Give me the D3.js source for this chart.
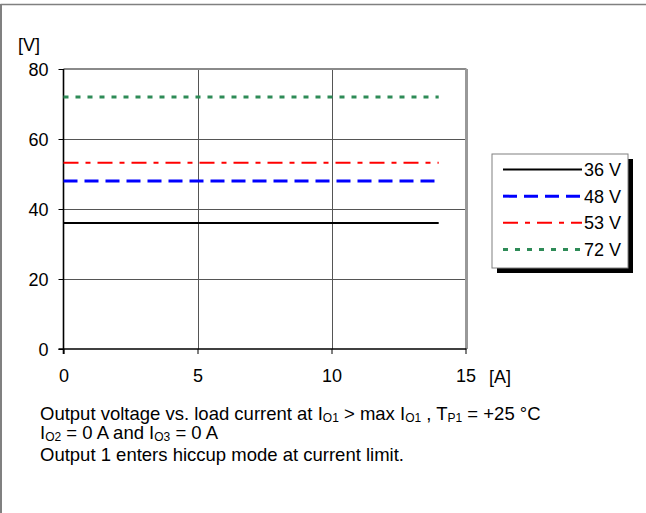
<!DOCTYPE html>
<html>
<head>
<meta charset="utf-8">
<script src="https://cdn.jsdelivr.net/npm/d3@7"></script>
<style>
  html, body { margin: 0; padding: 0; background: #fff; }
  svg { display: block; font-family: "Liberation Sans", Arial, sans-serif; }
</style>
</head>
<body>
<svg id="chart" width="646" height="513"></svg>
<script>
// Output voltage (V) vs. load current (A) for each input voltage setting
const seriesNames = ["36 V", "48 V", "53 V", "72 V"];
const currents = [0, 14];
const voltage36 = [36, 36];
const voltage48 = [48, 48];
const voltage53 = [53.2, 53.2];
const voltage72 = [72, 72];
const xTicks = [0, 5, 10, 15];
const yTicks = [0, 20, 40, 60, 80];

const seriesValues = [voltage36, voltage48, voltage53, voltage72];
const seriesStyle = [
  { color: "#000000", width: 2,   dash: null },
  { color: "#0000ff", width: 3,   dash: "14,7" },
  { color: "#ff0000", width: 2,   dash: "15,7,5,7" },
  { color: "#2e8b57", width: 3,   dash: "5,7" }
];

const FONT = 18;
const svg = d3.select("#chart");

// outer frame (top and left edges)
svg.append("line").attr("x1", 0.5).attr("x2", 646).attr("y1", 4.5).attr("y2", 4.5)
  .attr("stroke", "#808080").attr("stroke-width", 1.5);
svg.append("line").attr("x1", 1).attr("x2", 1).attr("y1", 4).attr("y2", 513)
  .attr("stroke", "#808080").attr("stroke-width", 2);

const plot = { left: 63.5, right: 465.5, top: 69, bottom: 349 };
const x = d3.scaleLinear().domain([0, 15]).range([plot.left, plot.right]);
const y = d3.scaleLinear().domain([0, 80]).range([plot.bottom, plot.top]);

// grid
const g = svg.append("g");
g.selectAll(".hgrid").data(yTicks.filter(d => d > 0 && d < 80)).join("line")
  .attr("x1", plot.left).attr("x2", plot.right)
  .attr("y1", d => Math.round(y(d)) + 0.5).attr("y2", d => Math.round(y(d)) + 0.5)
  .attr("stroke", "#555").attr("stroke-width", 1);
g.selectAll(".vgrid").data(xTicks.filter(d => d > 0 && d < 15)).join("line")
  .attr("x1", d => Math.round(x(d)) + 0.5).attr("x2", d => Math.round(x(d)) + 0.5)
  .attr("y1", plot.top).attr("y2", plot.bottom)
  .attr("stroke", "#555").attr("stroke-width", 1);

// plot border: top and right gray
g.append("line").attr("x1", plot.left).attr("x2", plot.right + 1)
  .attr("y1", plot.top).attr("y2", plot.top)
  .attr("stroke", "#8a8a8a").attr("stroke-width", 2);
g.append("line").attr("x1", plot.right + 1).attr("x2", plot.right + 1)
  .attr("y1", plot.top).attr("y2", plot.bottom)
  .attr("stroke", "#999").attr("stroke-width", 3);

// axes
const yAxis = d3.axisLeft(y).tickValues(yTicks).tickSize(5).tickPadding(10);
const xAxis = d3.axisBottom(x).tickValues(xTicks).tickSize(5).tickPadding(15);

const ya = svg.append("g").attr("transform", `translate(${plot.left},0)`).call(yAxis);
const xa = svg.append("g").attr("transform", `translate(0,${plot.bottom})`).call(xAxis);
[ya, xa].forEach(a => {
  a.attr("font-size", FONT).attr("font-family", "'Liberation Sans', Arial, sans-serif");
  a.select(".domain").remove();
  a.selectAll("line").attr("stroke", "#000").attr("stroke-width", 1);
  a.selectAll("text").attr("fill", "#000");
});
ya.selectAll("text").attr("dy", "0.36em");
svg.append("line").attr("x1", plot.left).attr("x2", plot.left)
  .attr("y1", plot.top).attr("y2", plot.bottom + 5)
  .attr("stroke", "#000").attr("stroke-width", 1.6);
svg.append("line").attr("x1", plot.left - 5).attr("x2", plot.right + 1)
  .attr("y1", plot.bottom).attr("y2", plot.bottom)
  .attr("stroke", "#000").attr("stroke-width", 1.6);

// unit labels
svg.append("text").attr("x", 18).attr("y", 51).text("[V]")
  .attr("font-size", FONT);
svg.append("text").attr("x", 489).attr("y", 383).text("[A]")
  .attr("font-size", FONT);

// series lines
const line = d3.line().x(d => x(d[0])).y(d => y(d[1]));
seriesValues.forEach((vals, i) => {
  const pts = currents.map((c, j) => [c, vals[j]]);
  const s = seriesStyle[i];
  svg.append("path").attr("d", line(pts))
    .attr("fill", "none").attr("stroke", s.color)
    .attr("stroke-width", s.width)
    .attr("stroke-dasharray", s.dash);
});

// legend with drop shadow
const lg = { x: 492, y: 154, w: 136, h: 114 };
svg.append("rect").attr("x", lg.x + 5).attr("y", lg.y + 5)
  .attr("width", lg.w).attr("height", lg.h).attr("fill", "#000");
svg.append("rect").attr("x", lg.x).attr("y", lg.y)
  .attr("width", lg.w).attr("height", lg.h)
  .attr("fill", "#fff").attr("stroke", "#808080").attr("stroke-width", 1);
const rowY = d3.scaleLinear().domain([0, 3]).range([169.5, 249.5]);
seriesNames.forEach((name, i) => {
  const s = seriesStyle[i];
  svg.append("line").attr("x1", 503).attr("x2", 582)
    .attr("y1", rowY(i)).attr("y2", rowY(i))
    .attr("stroke", s.color).attr("stroke-width", s.width)
    .attr("stroke-dasharray", s.dash);
  svg.append("text").attr("x", 584).attr("y", rowY(i)).attr("dy", "0.36em")
    .attr("font-size", FONT).text(name);
});

// caption with subscripts
const captionLines = [
  [["Output voltage vs. load current at I"], ["O1", 1], [" > max I"], ["O1", 1], [" , T"], ["P1", 1], [" = +25 °C"]],
  [["I"], ["O2", 1], [" = 0 A and I"], ["O3", 1], [" = 0 A"]],
  [["Output 1 enters hiccup mode at current limit."]]
];
const captionY = [419.5, 439, 460.5];
captionLines.forEach((parts, li) => {
  const t = svg.append("text").attr("x", 40).attr("y", captionY[li]).attr("font-size", 18.5);
  parts.forEach((p, k) => {
    const ts = t.append("tspan").text(p[0]);
    if (p[1]) ts.attr("font-size", 12).attr("dy", 2);
    else if (k > 0 && parts[k - 1][1]) ts.attr("dy", -2);
  });
});
</script>
</body>
</html>
